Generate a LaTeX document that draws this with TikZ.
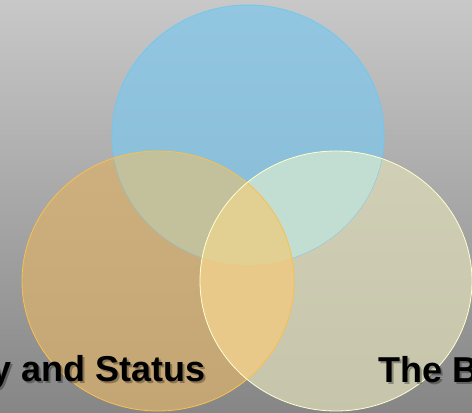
\documentclass[tikz,border=0pt]{standalone}
\usepackage{fontspec}
\setmainfont{Liberation Sans}
\definecolor{bgtop}{RGB}{200,200,200}
\definecolor{bgbot}{RGB}{134,134,134}
\definecolor{cblue}{RGB}{129,199,234}
\definecolor{corange}{RGB}{217,177,111}
\definecolor{cright}{RGB}{220,219,184}
\definecolor{cbo}{RGB}{195,193,155}
\definecolor{cbr}{RGB}{194,221,210}
\definecolor{cor}{RGB}{232,201,138}
\definecolor{cbor}{RGB}{226,208,146}
\definecolor{lblue}{RGB}{112,200,240}
\definecolor{lorange}{RGB}{248,192,80}
\definecolor{lright}{RGB}{255,255,208}
\newcommand{\vennB}{(248,135) ellipse [x radius=136pt, y radius=130pt]}
\newcommand{\vennO}{(158,281) ellipse [x radius=136pt, y radius=130pt]}
\newcommand{\vennR}{(336,281) ellipse [x radius=136pt, y radius=130pt]}
\tikzset{
  setfill/.style={fill=#1, fill opacity=0.75},
  edge/.style={draw=#1, line width=0.8pt},
  lbl/.style={inner sep=0pt, font=\bfseries\fontsize{36}{40}\selectfont, text=black},
  lblshadow/.style={inner sep=0pt, font=\bfseries\fontsize{36}{40}\selectfont, text=black, text opacity=0.3}
}
\begin{document}
\begin{tikzpicture}[x=1pt,y=-1pt]
\useasboundingbox (0,0) rectangle (472,413);
\clip (0,0) rectangle (472,413);
\shade[top color=bgtop, bottom color=bgbot] (0,0) rectangle (472,413);
% single sets
\path[setfill=cblue] \vennB;
\path[setfill=corange] \vennO;
\path[setfill=cright] \vennR;
\path[edge=lblue] \vennB;
% overlaps
\begin{scope}\clip \vennB; \fill[cbo] \vennO; \end{scope}
\begin{scope}\clip \vennB; \fill[cbr] \vennR; \end{scope}
\begin{scope}\clip \vennO; \fill[cor] \vennR; \end{scope}
\begin{scope}\clip \vennB; \clip \vennO; \fill[cbor] \vennR; \end{scope}
% outlines
\path[edge=lorange] \vennO;
\path[edge=lright] \vennR;
% labels
\node[lblshadow, anchor=base east] (ls) at (208,383) {y and Status};
\node[lbl, anchor=base east] (l) at (206,381) {y and Status};
\node[lblshadow, anchor=base west] (rs) at (380,384) {The B};
\node[lbl, anchor=base west] (r) at (378,382) {The B};
\end{tikzpicture}
\end{document}
